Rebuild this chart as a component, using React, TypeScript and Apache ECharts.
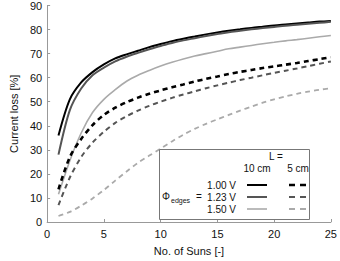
import React, { useEffect, useRef } from "react";
import * as echarts from "echarts";

const suns = [1, 2, 3, 4, 5, 6, 7, 8, 9, 10, 11, 12, 13, 14, 15, 16, 17, 18, 19, 20, 21, 22, 23, 24, 25];
const solid100 = [36, 51, 58, 62.3, 65.5, 68, 69.7, 71.2, 72.7, 74, 75.2, 76.2, 77.1, 78, 78.8, 79.5, 80.1, 80.7, 81.2, 81.7, 82.1, 82.5, 82.9, 83.3, 83.6];
const solid123 = [28, 46.5, 55.5, 61, 64.2, 66.8, 68.7, 70.3, 71.8, 73.2, 74.4, 75.5, 76.4, 77.3, 78.1, 78.9, 79.5, 80.1, 80.6, 81.1, 81.6, 82, 82.4, 82.8, 83.2];
const solid150 = [11.5, 25.5, 37, 45.5, 51, 55, 58.5, 61, 63, 64.8, 66.4, 67.8, 69, 70, 71, 72, 72.7, 73.4, 74.1, 74.7, 75.3, 75.8, 76.4, 77, 77.5];
const dash100 = [13.6, 27, 34.5, 40.3, 44.5, 47.5, 49.8, 51.7, 53.3, 54.7, 56, 57.2, 58.4, 59.5, 60.5, 61.5, 62.4, 63.2, 64, 64.7, 65.4, 66.1, 66.9, 67.7, 68.5];
const dash123 = [7, 18.5, 27, 33, 37.5, 41.2, 44, 46.3, 48.3, 50, 51.6, 53, 54.3, 55.6, 56.8, 57.9, 59, 60, 61, 62, 62.9, 63.8, 64.8, 65.8, 66.7];
const dash150 = [2.5, 4.2, 6.8, 9.8, 13.3, 17.2, 21, 24.6, 27.6, 30.5, 33.5, 36.3, 38.7, 40.8, 42.7, 44.5, 46.3, 48, 49.6, 51, 52.2, 53.3, 54.2, 55, 55.6];

const voltages = ["1.00 V", "1.23 V", "1.50 V"];
const lengths = ["10 cm", "5 cm"];
const colors = ["#000000", "#555555", "#aaaaaa"];

const FONT = "Liberation Sans, Arial, sans-serif";

export default function App() {
  const ref = useRef<HTMLDivElement>(null);
  useEffect(() => {
    if (!ref.current) return;
    const chart = echarts.init(ref.current, undefined, { renderer: "svg" });
    const mk = (vals: number[]) => suns.map((s, i) => [s, vals[i]]);
    const series: any[] = [];
    const solids = [solid100, solid123, solid150];
    const dashes = [dash100, dash123, dash150];
    const widths = [2, 2, 1.6];
    const dwidths = [2.6, 2, 1.8];
    solids.forEach((v, i) =>
      series.push({
        type: "line",
        name: voltages[i] + " " + lengths[0],
        data: mk(v),
        showSymbol: false,
        smooth: 0.3,
        lineStyle: { color: colors[i], width: widths[i] },
      })
    );
    dashes.forEach((v, i) =>
      series.push({
        type: "line",
        name: voltages[i] + " " + lengths[1],
        data: mk(v),
        showSymbol: false,
        smooth: 0.3,
        lineStyle: { color: colors[i], width: dwidths[i], type: [5, 4] },
      })
    );

    const txt = (x: number, y: number, text: string, size: number, align: string) => ({
      type: "text",
      x,
      y,
      style: { text, font: `${size}px ${FONT}`, fill: "#111", align, verticalAlign: "middle" },
      z: 11,
    });

    const graphics: any[] = [
      {
        type: "rect",
        shape: { x: 159.5, y: 149.5, width: 150, height: 70 },
        style: { fill: "#fff", stroke: "#777", lineWidth: 1 },
        z: 10,
      },
      txt(276, 156, "L =", 10, "center"),
      txt(257, 168, lengths[0], 10, "center"),
      txt(298, 168, lengths[1], 10, "center"),
      txt(166, 196, "Φ", 10, "center"),
      txt(171, 200, "edges", 7, "left"),
      txt(199, 196, "=", 10, "center"),
    ];
    const rowY = [185, 197, 209];
    voltages.forEach((v, i) => {
      graphics.push(txt(236, rowY[i], v, 10, "right"));
      graphics.push({
        type: "line",
        shape: { x1: 247, y1: rowY[i], x2: 267, y2: rowY[i] },
        style: { stroke: colors[i], lineWidth: widths[i] },
        z: 11,
      });
      graphics.push({
        type: "line",
        shape: { x1: 289, y1: rowY[i], x2: 306, y2: rowY[i] },
        style: { stroke: colors[i], lineWidth: dwidths[i], lineDash: [6, 5] },
        z: 11,
      });
    });

    chart.setOption({
      animation: false,
      backgroundColor: "#ffffff",
      grid: { left: 29, right: 7, top: 5, bottom: 33, containLabel: false },
      xAxis: {
        type: "value",
        min: 0,
        max: 25,
        interval: 5,
        name: "No. of Suns [-]",
        nameLocation: "middle",
        nameGap: 23,
        nameTextStyle: { fontFamily: FONT, fontSize: 11, color: "#111" },
        axisLine: { show: true, lineStyle: { color: "#999", width: 1 } },
        axisTick: { show: true, inside: true, length: 3, lineStyle: { color: "#999" } },
        axisLabel: { fontFamily: FONT, fontSize: 11, color: "#111", margin: 6 },
        splitLine: { show: false },
      },
      yAxis: {
        type: "value",
        min: 0,
        max: 90,
        interval: 10,
        name: "Current loss [%]",
        nameLocation: "middle",
        nameGap: 21,
        nameTextStyle: { fontFamily: FONT, fontSize: 11, color: "#111" },
        axisLine: { show: true, lineStyle: { color: "#999", width: 1 } },
        axisTick: { show: true, inside: true, length: 3, lineStyle: { color: "#999" } },
        axisLabel: { fontFamily: FONT, fontSize: 11, color: "#111", margin: 5 },
        splitLine: { show: false },
      },
      series,
      graphic: graphics,
    });
    return () => chart.dispose();
  }, []);
  return <div ref={ref} style={{ width: 340, height: 261, position: "absolute", left: 0, top: 0 }} />;
}
